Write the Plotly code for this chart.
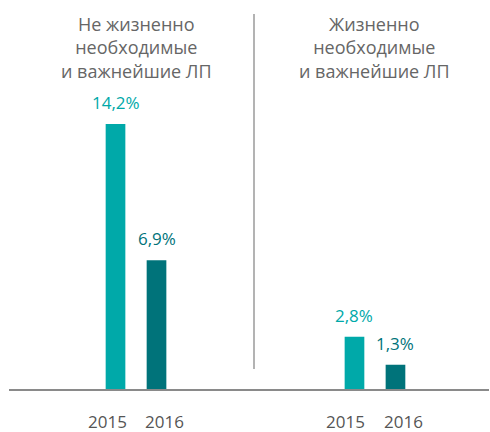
import plotly.graph_objects as go
from plotly.subplots import make_subplots

groups = ["Не жизненно<br>необходимые<br>и важнейшие ЛП",
          "Жизненно<br>необходимые<br>и важнейшие ЛП"]
years = ["2015", "2016"]
values_group1 = [14.2, 6.9]
values_group2 = [2.8, 1.3]
labels_group1 = ["14,2%", "6,9%"]
labels_group2 = ["2,8%", "1,3%"]
bar_colors = ["#00A9A9", "#00737A"]

W, H = 490, 432
FONT = "Open Sans"
year_xshift = [-8.5, 8]

fig = make_subplots(rows=1, cols=2, horizontal_spacing=0)

for col, (vals, labs) in enumerate([(values_group1, labels_group1),
                                    (values_group2, labels_group2)], start=1):
    fig.add_trace(go.Bar(x=years, y=vals, marker=dict(color=bar_colors, line=dict(width=0)),
                         width=0.48, showlegend=False, hoverinfo="skip"),
                  row=1, col=col)
    xref = "x" if col == 1 else "x2"
    yref = "y" if col == 1 else "y2"
    for i, (yr, v, lab, c) in enumerate(zip(years, vals, labs, bar_colors)):
        # value label
        fig.add_annotation(x=i, y=v, xref=xref, yref=yref, text=lab, showarrow=False,
                           yanchor="bottom", yshift=8,
                           font=dict(family=FONT, size=17, color=c))
        # year label under the axis
        fig.add_annotation(x=i, y=0, xref=xref, yref=yref, text=yr, showarrow=False,
                           yanchor="middle", yshift=-32, xshift=year_xshift[i],
                           borderpad=0,
                           font=dict(family=FONT, size=17, color="#555555"))

# domains in pixels
d1 = [9 / W, 254 / W]
d2 = [254 / W, 489 / W]
axis_common = dict(type="category", showgrid=False, zeroline=False, showline=True,
                   linecolor="#8a8a8a", linewidth=1.5, ticks="", showticklabels=False,
                   automargin=False, fixedrange=True)
fig.update_layout(
    xaxis=dict(domain=d1, range=[-2.598, 3.378], **axis_common),
    xaxis2=dict(domain=d2, range=[-2.451, 3.281], **axis_common),
)
ymax = 389 / 18.66
for ax in ["yaxis", "yaxis2"]:
    fig.update_layout({ax: dict(range=[0, ymax], visible=False, showgrid=False,
                                zeroline=False, fixedrange=True, automargin=False)})

# group titles
for i, (g, xc) in enumerate(zip(groups, [136 / W, 374 / W])):
    fig.add_annotation(x=xc, y=0.975, xref="paper", yref="paper", text=g, showarrow=False,
                       xanchor="center", yanchor="top", align="center",
                       font=dict(family=FONT, size=18, color="#666666"))

# separator
fig.add_shape(type="line", xref="paper", yref="paper", x0=254 / W, x1=254 / W,
              y0=1 - 14 / 389, y1=1 - 369 / 389, line=dict(color="#9a9a9a", width=1.5))

fig.update_layout(width=W, height=H, margin=dict(l=0, r=0, t=0, b=43, autoexpand=False),
                  plot_bgcolor="white", paper_bgcolor="white", bargap=0.52,
                  font=dict(family=FONT))

fig.write_html("out.html", post_script="document.body.style.margin='0';",
               config={"displayModeBar": False})
